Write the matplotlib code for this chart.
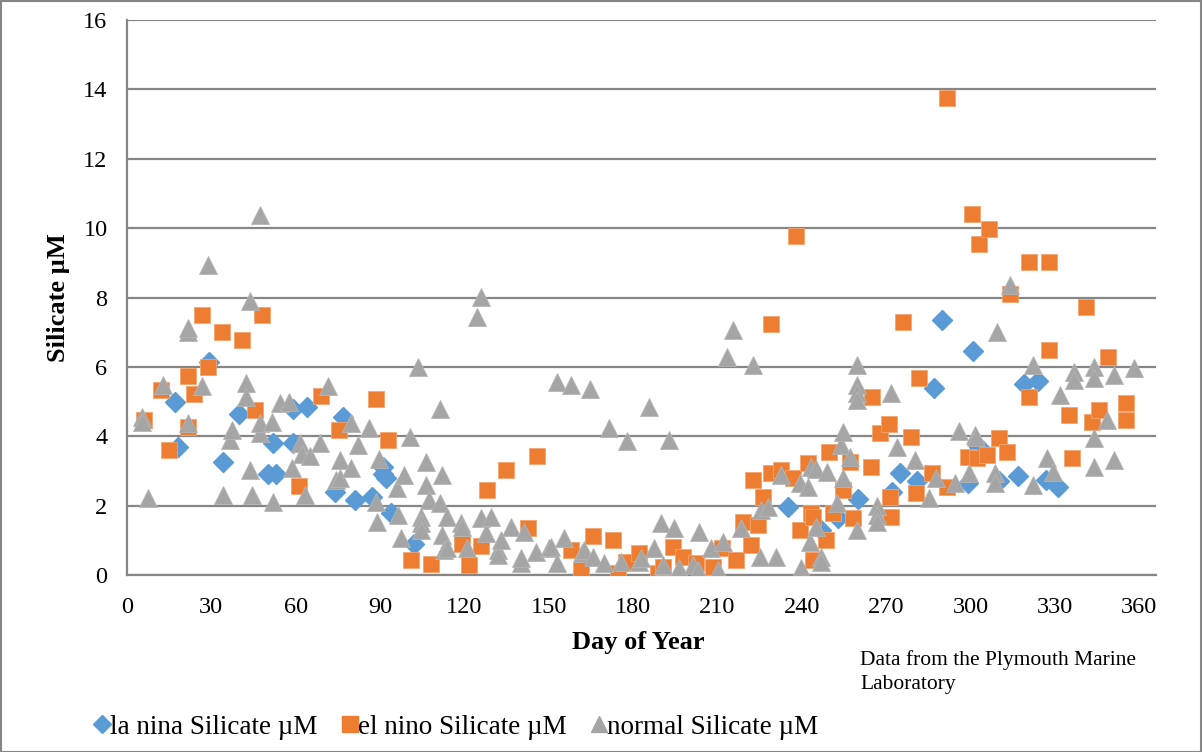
import matplotlib
matplotlib.use("Agg")
import matplotlib.pyplot as plt
from matplotlib.lines import Line2D
from matplotlib.patches import Rectangle

# ---------------- data ----------------
lanina_day = [17, 18, 29, 34, 40, 50, 52, 53, 59, 59, 64, 74, 77, 81, 87, 91, 91, 92, 94, 102,
              235, 247, 253, 260, 272, 275, 281, 287, 290, 299, 301, 303, 310, 317, 319, 324, 327, 331]
lanina_si = [5.0, 3.7, 6.15, 3.25, 4.65, 2.9, 3.8, 2.9, 3.8, 4.8, 4.85, 2.4, 4.55, 2.15, 2.25, 3.1, 2.9, 2.8, 1.8, 0.9,
             1.95, 1.3, 1.65, 2.2, 2.4, 2.95, 2.7, 5.4, 7.35, 2.65, 6.45, 3.7, 2.7, 2.85, 5.5, 5.6, 2.75, 2.55]

elnino_day = [6, 12, 15, 21.6, 21.6, 24, 26.5, 28.7, 33.8, 40.8, 45.6, 48, 61, 69, 75.3, 88.6, 93, 101, 108,
              119.3, 121.6, 125.8, 127.9, 134.9, 142.8, 145.7, 158, 161.5, 165.6, 172.7, 174.5, 177.5, 182.2,
              189, 190.5, 194.1, 197.6, 202.4, 208.4, 211.7, 216.7, 219, 222, 222.6, 224.4, 226.2, 229.2,
              229.2, 232.7, 236.9, 238, 239.2, 242.2, 243.4, 244, 244, 248.8, 249.7, 251, 254.7, 257, 258.3,
              264.8, 265.1, 268, 271.1, 271.3, 271.9, 276, 279, 280.8, 281.8, 286.2, 291.5, 291.5, 299.2,
              300.4, 302.2, 303, 305.8, 306.5, 310.3, 312.9, 313.9, 321, 321, 328, 328, 335.2, 336, 341,
              343.2, 345.9, 348.8, 355.3, 355.3]
elnino_si = [4.47, 5.33, 3.6, 5.74, 4.28, 5.22, 7.5, 6.0, 7.0, 6.77, 4.76, 7.5, 2.57, 5.15, 4.18, 5.08, 3.89, 0.43, 0.31,
             0.88, 0.3, 0.84, 2.44, 3.02, 1.35, 3.43, 0.72, 0.14, 1.12, 1.0, 0.05, 0.38, 0.63,
             0.05, 0.24, 0.82, 0.53, 0.34, 0.24, 0.78, 0.43, 1.54, 0.86, 2.74, 1.44, 2.26, 2.93,
             7.24, 3.03, 2.79, 9.78, 1.3, 3.22, 1.78, 0.43, 1.68, 1.0, 3.55, 1.78, 2.45, 3.27, 1.63,
             3.12, 5.14, 4.08, 4.35, 2.26, 1.68, 7.28, 3.99, 2.35, 5.67, 2.95, 2.55, 13.75, 3.41,
             10.4, 3.37, 9.54, 3.46, 9.97, 3.94, 3.55, 8.1, 5.14, 9.02, 6.49, 9.02, 4.61, 3.36, 7.74,
             4.42, 4.76, 6.29, 4.95, 4.47]

normal_day = [5.2, 5.5, 7.4, 12.9, 21.6, 21.6, 21.6, 26.6, 28.7, 34.3, 36.7, 37.3, 42.3, 42.3, 43.8, 43.8, 44.4,
              47.2, 47.4, 47.4, 51.6, 52.1, 54.5, 57.5, 58.7, 61.7, 62.2, 63.4, 65.2, 68.8, 71.5, 74.4, 75.9,
              75.9, 79.5, 79.5, 82.2, 86, 88.7, 89, 89.6, 96.1, 96.5, 97.3, 98.5, 100.6, 103.6, 104.4, 104.4,
              104.4, 106.4, 106.2, 107.4, 111.3, 111.4, 112.1, 112.1, 112.7, 113.7, 113.9, 118.7, 119.3, 121,
              124.4, 125.8, 125.8, 127.6, 129.4, 131.8, 131.8, 132.9, 136.5, 140, 140, 141.2, 145.4, 150.1,
              150.7, 152.8, 153, 155.5, 157.9, 162, 162.6, 164.7, 165.6, 169.7, 171.3, 175.7, 178, 182.2,
              182.8, 185.6, 187.6, 190, 190.5, 192.7, 194.7, 196.5, 201.2, 203, 203.6, 207.8, 210.1, 211.9,
              213.4, 215.5, 218.5, 222.6, 225, 225.6, 227.9, 230.7, 232.5, 239.2, 239.8, 242.2, 242.8, 243.4,
              245, 245.2, 247, 247, 249, 252.6, 254, 254.7, 254.7, 257, 259.7, 259.7, 259.7, 259.7, 259.7,
              266.8, 266.8, 266.8, 271.9, 273.9, 280.2, 285.3, 287.7, 294.5, 296, 299.6, 301.7, 302, 308.7,
              308.7, 309.6, 313.9, 322.4, 322.4, 327.2, 329.5, 331.7, 336.7, 336.7, 343.8, 343.8, 343.8,
              343.8, 348.5, 350.9, 350.9, 358]
normal_si = [4.56, 4.42, 2.21, 5.48, 7.01, 7.12, 4.37, 5.45, 8.94, 2.31, 3.89, 4.18, 5.53, 5.14, 7.91, 3.03, 2.31,
             4.08, 4.37, 10.38, 4.4, 2.11, 4.95, 5.0, 3.08, 3.8, 3.5, 2.31, 3.43, 3.8, 5.45, 2.74, 3.32,
             2.79, 4.37, 3.08, 3.75, 4.23, 2.11, 1.54, 3.34, 2.5, 1.73, 1.06, 2.88, 3.99, 6.0, 1.68, 1.49,
             1.3, 3.27, 2.59, 2.16, 2.07, 4.78, 2.88, 1.15, 0.72, 1.68, 0.77, 1.49, 1.39, 0.77,
             7.45, 8.02, 1.63, 1.2, 1.68, 0.72, 0.58, 1.0, 1.39, 0.34, 0.48, 1.25, 0.67, 0.77,
             0.82, 5.55, 0.34, 1.08, 5.48, 0.63, 0.72, 5.37, 0.53, 0.34, 4.23, 0.38, 3.87, 0.38,
             0.48, 4.85, 0.77, 1.49, 0.29, 3.89, 1.35, 0.19, 0.29, 0.14, 1.25, 0.77, 0.14, 0.96,
             6.29, 7.06, 1.35, 6.05, 0.53, 1.87, 1.97, 0.53, 2.88, 2.64, 0.19, 2.55, 0.96, 3.12,
             3.07, 1.39, 0.53, 0.38, 2.98, 2.07, 3.75, 4.13, 2.79, 3.41, 6.05, 5.48, 5.24, 5.04, 1.3,
             1.99, 1.73, 1.54, 5.24, 3.7, 3.32, 2.21, 2.79, 2.64, 4.16, 2.93, 4.04, 3.99, 2.93,
             2.64, 7.01, 8.35, 6.05, 2.59, 3.36, 2.98, 5.19, 5.86, 5.62, 6.0, 5.67, 3.94,
             3.12, 4.47, 5.77, 3.32, 5.96]

x_ticks = [0, 30, 60, 90, 120, 150, 180, 210, 240, 270, 300, 330, 360]
y_ticks = [0, 2, 4, 6, 8, 10, 12, 14, 16]

series_names = ["la nina Silicate \u00b5M", "el nino Silicate \u00b5M", "normal Silicate \u00b5M"]

# ---------------- style ----------------
BLUE = "#5B9BD5"
ORANGE = "#ED7D31"
GRAY = "#A5A5A5"
GRID = "#868686"
FONT = "Liberation Serif"
plt.rcParams["font.family"] = [FONT, "DejaVu Serif"]

W, H = 1203, 752
fig = plt.figure(figsize=(W / 100, H / 100), dpi=100)

left, right, top, bottom = 127, 1156, 20, 575
ax = fig.add_axes([left / W, 1 - bottom / H, (right - left) / W, (bottom - top) / H])

ax.plot(lanina_day, lanina_si, linestyle="none", marker="D", ms=10.5, color=BLUE, mec=BLUE, zorder=3)
ax.plot(elnino_day, elnino_si, linestyle="none", marker="s", ms=12, color=ORANGE, mec="#F4A46F", mew=0.6, zorder=4)
ax.plot(normal_day, normal_si, linestyle="none", marker="^", ms=13, color=GRAY, mec="#B5B5B5", mew=0.6, zorder=5)

ax.set_xlim(0, 366)
ax.set_ylim(0, 16)
ax.set_xticks(x_ticks)
ax.set_yticks(y_ticks)
ax.tick_params(axis="both", length=0, labelsize=17.5, colors="black")
ax.tick_params(axis="y", pad=14)
ax.tick_params(axis="x", pad=16)
ax.yaxis.grid(True, color=GRID, linewidth=1.6)
ax.set_axisbelow(True)
for s in ["top", "right"]:
    ax.spines[s].set_visible(False)
for s in ["left", "bottom"]:
    ax.spines[s].set_color(GRID)
    ax.spines[s].set_linewidth(1.6)

fig.text(638 / W, 1 - 643 / H, "Day of Year", ha="center", va="center", fontsize=19, fontweight="bold")
fig.text(58 / W, 1 - 298 / H, "Silicate \u00b5M", ha="center", va="center", rotation=90,
         fontsize=19, fontweight="bold")
fig.text(860 / W, 1 - 650 / H, "Data from the Plymouth Marine\nLaboratory", ha="left", va="top",
         fontsize=15.5, linespacing=1.35)

handles = [
    Line2D([], [], linestyle="none", marker="D", ms=9, color=BLUE),
    Line2D([], [], linestyle="none", marker="s", ms=11, color=ORANGE),
    Line2D([], [], linestyle="none", marker="^", ms=12, color=GRAY),
]
fig.legend(handles, series_names, loc="center left", bbox_to_anchor=(94 / W, 1 - 727 / H), ncol=3,
           frameon=False, fontsize=19.5, handlelength=0.6, handletextpad=0.0, columnspacing=0.88,
           borderaxespad=0, borderpad=0)

fig.add_artist(Rectangle((0.5 / W, 0.5 / H), (W - 3) / W, (H - 1) / H, transform=fig.transFigure,
                         fill=False, edgecolor=GRID, linewidth=1.5))

fig.savefig("out.png", dpi=100)
